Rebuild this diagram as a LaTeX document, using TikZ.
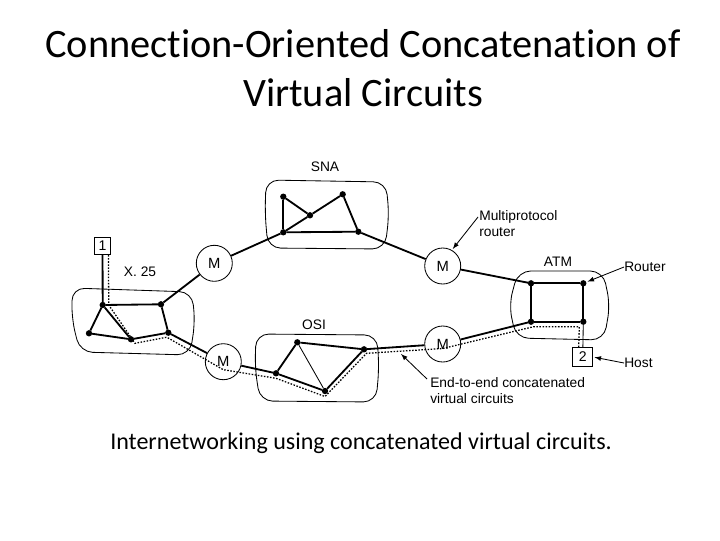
\documentclass[tikz,border=0pt]{standalone}
\usepackage{fontspec}
\setmainfont{Carlito}[Ligatures=NoCommon]
\newfontfamily\figfont{Liberation Sans}

\begin{document}
\begin{tikzpicture}[x=0.025cm, y=-0.025cm,
    dot/.style = {circle, fill, minimum size=#1,
                inner sep=0pt, outer sep=0pt},
    dot/.default = 4.5pt,  % router dots
    mux/.style = {circle, draw, line width=0.6pt,
                minimum size=0.9cm, inner sep=0pt, font=\figfont\fontsize{10.5}{12}\selectfont},
    host/.style = {draw, line width=0.6pt, fill=white, inner sep=0pt,
                minimum width=0.42cm, minimum height=0.43cm, font=\figfont\fontsize{10}{11}\selectfont},
    netbox/.style = {line width=0.6pt, rounded corners=9},
    lnk/.style = {line width=1.3pt},
    vc/.style = {line width=0.9pt, dash pattern=on 1.1pt off 1.1pt},
    lbl/.style = {font=\figfont\fontsize{9.8}{11.5}\selectfont, inner sep=0pt},
    callout/.style = {line width=0.6pt, -latex, shorten >=1pt}
                    ]
        \useasboundingbox (0,0) rectangle (720,540);
        % title and caption
        \node[align=center, font=\fontsize{28.7}{34.5}\selectfont] (title) at (363,68)
            {Connection-Oriented Concatenation of\\Virtual Circuits};
        \node[font=\fontsize{17.1}{20}\selectfont] (caption) at (361,443)
            {Internetworking using concatenated virtual circuits.};
        % network clouds
        \draw[netbox] (72,288) -- (192,292) -- (195,322) -- (190,355) -- (80,352) -- (72,320) -- cycle;
        \draw[netbox] (266,180) -- (386,182) -- (389,215) -- (385,249) -- (268,248) -- (265,214) -- cycle;
        \draw[netbox] (256,334) -- (377,335) -- (379,368) -- (376,402) -- (260,401) -- (255,368) -- cycle;
        \draw[netbox] (518,271) -- (603,271) -- (610,305) -- (604,340) -- (516,338) -- (509,305) -- cycle;
        % routers inside the networks
        \foreach \x/\y/\v in {102.7/305/a, 161/304.3/b, 89/333.3/c, 131/339.3/d, 168.3/332.7/e,
                              283.3/196.7/s1, 310/215.3/s2, 342.7/194.3/s3, 283.3/232.3/s4, 358.3/231.7/s5,
                              276/373.3/o1, 297.3/342.3/o2, 325/391/o3, 364/349.3/o4,
                              531/283.3/t1, 583.3/283.3/t2, 531/321.7/t3, 583.3/321.7/t4}
            \node[dot] at (\x,\y) (\v) {};
        % multiprotocol routers
        \foreach \x/\y/\v in {214.3/263.3/Mtl, 442.7/266/Mtr, 223.3/361.7/Mbl, 442.7/344/Mbr}
            \node[mux] at (\x,\y) (\v) {M};
        % hosts
        \node[host] at (102.5,246) (h1) {1};
        \node[host, minimum width=0.5cm, minimum height=0.47cm] at (582.7,357) (h2) {2};
        % links
        \draw [lnk] (a) -- (b);
        \draw [lnk] (a) -- (c);
        \draw [lnk] (a) -- (d);
        \draw [lnk] (c) -- (d);
        \draw [lnk] (d) -- (e);
        \draw [lnk] (e) -- (b);
        \draw [lnk] (s1) -- (s4);
        \draw [lnk] (s1) -- (s2);
        \draw [lnk] (s4) -- (s2);
        \draw [lnk] (s2) -- (s3);
        \draw [lnk] (s3) -- (s5);
        \draw [lnk] (s4) -- (s5);
        \draw [lnk] (o1) -- (o2);
        \draw [line width=0.6pt] (o2) -- (o3);
        \draw [lnk] (o2) -- (o4);
        \draw [lnk] (o1) -- (o3);
        \draw [lnk] (o3) -- (o4);
        \draw [lnk] (t1) -- (t2);
        \draw [lnk] (t1) -- (t3);
        \draw [lnk] (t3) -- (t4);
        \draw [lnk] (t2) -- (t4);
        \draw [lnk] (b) -- (Mtl);
        \draw [lnk] (Mtl) -- (s4);
        \draw [lnk] (s5) -- (Mtr);
        \draw [lnk] (Mtr) -- (t1);
        \draw [lnk] (e) -- (Mbl);
        \draw [lnk] (Mbl) -- (o1);
        \draw [lnk] (o4) -- (Mbr);
        \draw [lnk] (Mbr) -- (t3);
        \draw [lnk] (h1) -- (a);
        \draw [line width=0.6pt] (t4) -- (h2);
        % end-to-end virtual circuit
        \draw [vc] ([shift={(6,0)}]h1.south) -- ([shift={(6,0)}]a.center)
            -- ([shift={(4,4)}]d.center) -- ([shift={(-1.5,4.5)}]e.center)
            -- ([shift={(0,8)}]Mbl.center) -- ([shift={(0,5)}]o1.center)
            -- ([shift={(0,5.5)}]o3.center) -- ([shift={(2.5,4)}]o4.center)
            -- ([shift={(0,4.5)}]Mbr.center) -- ([shift={(2.5,5)}]t3.center)
            -- ([shift={(-4,5)}]t4.center) -- ([shift={(-4,0)}]h2.north);
        % labels
        \node[lbl] at (325,167) (sna) {SNA};
        \node[lbl] at (140,272) (x25) {X. 25};
        \node[lbl] at (314,325) (osi) {OSI};
        \node[lbl] at (558,262) (atm) {ATM};
        \node[lbl, align=left, anchor=north west] at (479,210) (mpr) {Multiprotocol\\router};
        \node[lbl, anchor=west] at (624,267) (rtr) {Router};
        \node[lbl, anchor=west] at (624,363) (hst) {Host};
        \node[lbl, align=left, anchor=north west] at (430,377) (e2e) {End-to-end concatenated\\virtual circuits};
        \coordinate (vcpt) at (400,353);
        % callouts
        \draw [callout] ([shift={(-1,7)}]mpr.north west) -- (Mtr.60);
        \draw [callout] (rtr.west) -- (t2);
        \draw [callout] (hst.west) -- (h2.east);
        \draw [callout] ([shift={(-3,2)}]e2e.north west) -- (vcpt);
\end{tikzpicture}
\end{document}
